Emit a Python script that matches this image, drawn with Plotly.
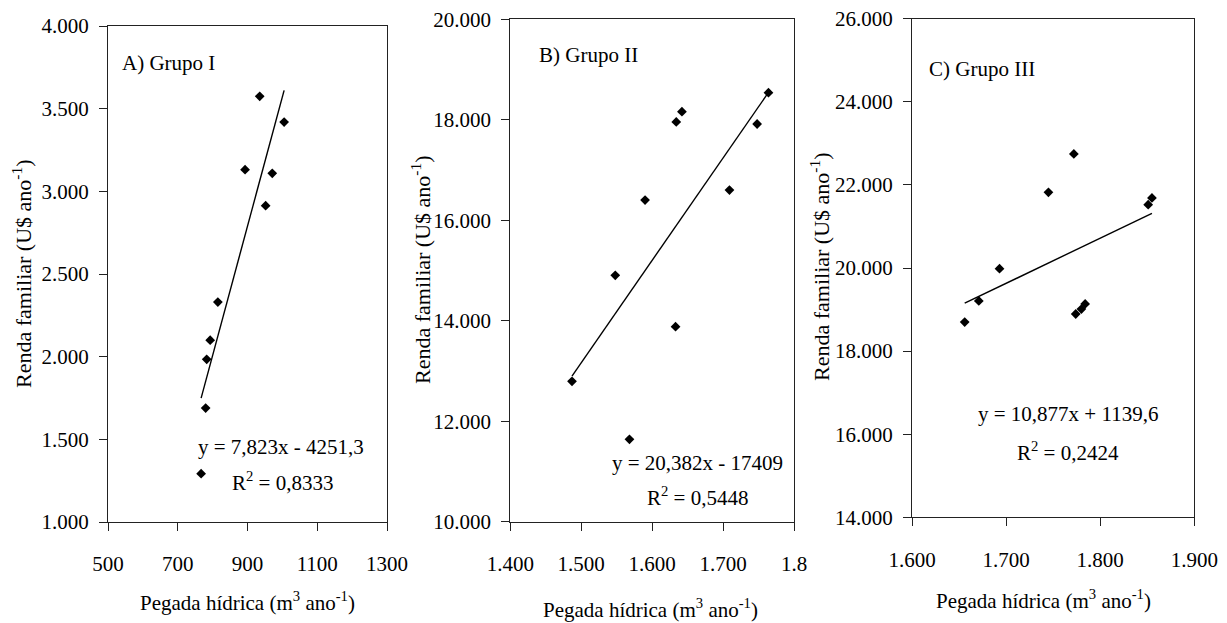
import plotly.graph_objects as go

# ---- data ----
a_x = [935, 1005, 893, 971, 952, 815, 793, 783, 780, 767]
a_y = [3575, 3419, 3131, 3109, 2913, 2330, 2100, 1984, 1689, 1292]
a_slope, a_icpt = 7.823, -4251.3

b_x = [1764, 1642, 1634, 1748, 1709, 1590, 1548, 1633, 1487, 1568]
b_y = [18539, 18161, 17956, 17916, 16602, 16403, 14904, 13882, 12795, 11640]
b_slope, b_icpt = 20.382, -17409

c_x = [1772, 1745, 1855, 1851, 1693, 1671, 1774, 1780, 1784, 1656]
c_y = [22744, 21822, 21685, 21524, 19983, 19206, 18893, 19013, 19134, 18700]
c_slope, c_icpt = 10.877, 1139.6

a_xticks = [500, 700, 900, 1100, 1300]
a_xtext = ["500", "700", "900", "1100", "1300"]
a_yticks = [1000, 1500, 2000, 2500, 3000, 3500, 4000]
a_ytext = ["1.000", "1.500", "2.000", "2.500", "3.000", "3.500", "4.000"]

b_xticks = [1400, 1500, 1600, 1700, 1800]
b_xtext = ["1.400", "1.500", "1.600", "1.700", "1.8"]
b_yticks = [10000, 12000, 14000, 16000, 18000, 20000]
b_ytext = ["10.000", "12.000", "14.000", "16.000", "18.000", "20.000"]

c_xticks = [1600, 1700, 1800, 1900]
c_xtext = ["1.600", "1.700", "1.800", "1.900"]
c_yticks = [14000, 16000, 18000, 20000, 22000, 24000, 26000]
c_ytext = ["14.000", "16.000", "18.000", "20.000", "22.000", "24.000", "26.000"]

panel_titles = ["A) Grupo I", "B) Grupo II", "C) Grupo III"]
equations = ["y = 7,823x - 4251,3", "y = 20,382x - 17409", "y = 10,877x + 1139,6"]
r2_texts = ["R<sup>2</sup> = 0,8333", "R<sup>2</sup> = 0,5448", "R<sup>2</sup> = 0,2424"]
y_title = "Renda familiar (U$ ano<sup>-1</sup>)"
x_title = "Pegada hídrica (m<sup>3</sup> ano<sup>-1</sup>)"

W, H = 1227, 623
FONT = "Liberation Serif"

def fx(px):
    return px / W

def fy(py):
    return 1 - py / H

fig = go.Figure()

panels = [
    (a_x, a_y, a_slope, a_icpt, "x", "y"),
    (b_x, b_y, b_slope, b_icpt, "x2", "y2"),
    (c_x, c_y, c_slope, c_icpt, "x3", "y3"),
]
for xs, ys, m, b, xa, ya in panels:
    fig.add_trace(go.Scatter(x=xs, y=ys, mode="markers", xaxis=xa, yaxis=ya,
                             marker=dict(symbol="diamond", size=7.5, color="black"),
                             showlegend=False, hoverinfo="skip"))
    x0, x1 = min(xs), max(xs)
    fig.add_trace(go.Scatter(x=[x0, x1], y=[m * x0 + b, m * x1 + b], mode="lines",
                             xaxis=xa, yaxis=ya, line=dict(color="black", width=1.4),
                             showlegend=False, hoverinfo="skip"))

def axis_common():
    return dict(showline=True, linecolor="#222222", linewidth=1.3, mirror=True,
                ticks="outside", ticklen=8, tickwidth=1.3, tickcolor="#222222",
                showgrid=False, zeroline=False, automargin=False,
                tickfont=dict(family=FONT, size=21, color="black"),
                tickmode="array")

# domains in pixels: (left, right, top, bottom)
doms = [(108, 387, 26, 522), (510.3, 794, 19.3, 521.7), (912, 1194.3, 18.7, 517.3)]
ranges_x = [[500, 1300], [1400, 1800], [1600, 1900]]
ranges_y = [[1000, 4000], [10000, 20000], [14000, 26000]]
xticks = [(a_xticks, a_xtext), (b_xticks, b_xtext), (c_xticks, c_xtext)]
yticks = [(a_yticks, a_ytext), (b_yticks, b_ytext), (c_yticks, c_ytext)]

layout = {}
for i in range(3):
    sfx = "" if i == 0 else str(i + 1)
    l, r, t, btm = doms[i]
    xa = axis_common()
    xa.update(domain=[fx(l), fx(r)], range=ranges_x[i], tickvals=xticks[i][0],
              ticktext=xticks[i][1], anchor="y" + sfx, ticklabelstandoff=15)
    ya = axis_common()
    ya.update(domain=[fy(btm), fy(t)], range=ranges_y[i], tickvals=yticks[i][0],
              ticktext=yticks[i][1], anchor="x" + sfx, ticklabelstandoff=6)
    layout["xaxis" + sfx] = xa
    layout["yaxis" + sfx] = ya

fig.update_layout(**layout)

ann = []
def add_text(text, px, py, xanchor="center", size=21, angle=0):
    ann.append(dict(text=text, x=fx(px), y=fy(py), xref="paper", yref="paper",
                    xanchor=xanchor, yanchor="middle", showarrow=False, textangle=angle,
                    font=dict(family=FONT, size=size, color="black")))

# panel labels
add_text(panel_titles[0], 120, 63, xanchor="left")
add_text(panel_titles[1], 537, 55, xanchor="left")
add_text(panel_titles[2], 927, 69, xanchor="left")
# equations
add_text(equations[0], 281, 447)
add_text(r2_texts[0], 282, 481)
add_text(equations[1], 697, 463)
add_text(r2_texts[1], 697, 497)
add_text(equations[2], 1068, 414)
add_text(r2_texts[2], 1068, 451)
# axis titles
add_text(y_title, 22, 274, angle=-90, size=22)
add_text(y_title, 421, 270, angle=-90, size=22)
add_text(y_title, 820, 267, angle=-90, size=22)
add_text(x_title, 248, 601)
add_text(x_title, 651, 608)
add_text(x_title, 1043, 599)

fig.update_layout(annotations=ann, width=W, height=H,
                  margin=dict(l=0, r=0, t=0, b=0, pad=0, autoexpand=False),
                  paper_bgcolor="white", plot_bgcolor="white")

fig.write_html("out.html", config={"displayModeBar": False},
               post_script="document.body.style.margin='0';")
